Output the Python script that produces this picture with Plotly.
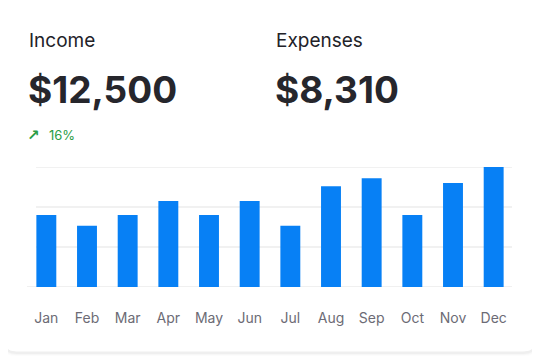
import plotly.graph_objects as go

months = ["Jan", "Feb", "Mar", "Apr", "May", "Jun", "Jul", "Aug", "Sep", "Oct", "Nov", "Dec"]
values = [18, 15.3, 18, 21.5, 18, 21.5, 15.3, 25.2, 27.2, 18, 26, 30]
grid_values = [10, 20, 30]
income_label = "Income"
income_value = "$12,500"
expenses_label = "Expenses"
expenses_value = "$8,310"
change_arrow = "↗"
change_text = "16%"

# the page body adds an 8px margin; lay out in window pixels and compensate
OFF = 8
W, H = 540 - OFF, 360 - OFF
L, R, T, B = 26 - OFF, 26, 167 - OFF, 73
PW, PH = W - L - R, H - T - B

def px(x):
    return (x - OFF - L) / PW

def py(y):
    return (H - B - (y - OFF)) / PH

FONT = "Inter, 'Open Sans', sans-serif"

fig = go.Figure()
fig.add_trace(go.Bar(
    x=months, y=values, width=0.49,
    marker=dict(color="#0780f5", line=dict(width=0)),
    hoverinfo="skip",
))

shapes = []

def rrect(x0, y0, x1, y1, r):
    def P(x, y):
        return f"{px(x):.5f},{py(y):.5f}"
    return (f"M {P(x0 + r, y0)} L {P(x1 - r, y0)} Q {P(x1, y0)} {P(x1, y0 + r)} "
            f"L {P(x1, y1 - r)} Q {P(x1, y1)} {P(x1 - r, y1)} "
            f"L {P(x0 + r, y1)} Q {P(x0, y1)} {P(x0, y1 - r)} "
            f"L {P(x0, y0 + r)} Q {P(x0, y0)} {P(x0 + r, y0)} Z")

for i, op in enumerate([0.03, 0.02, 0.012]):
    d = i + 1
    shapes.append(dict(type="path", xref="paper", yref="paper",
                       path=rrect(4 - d, -12, 536 + d, 352 + d + 1, 12 + d),
                       fillcolor=f"rgba(0,0,0,{op})", line=dict(width=0), layer="below"))
shapes.append(dict(type="path", xref="paper", yref="paper",
                   path=rrect(4, -12, 536, 352, 12),
                   fillcolor="#ffffff", line=dict(color="#efefef", width=1), layer="below"))

for g in grid_values:
    shapes.append(dict(type="line", xref="paper", yref="y", x0=px(36), x1=px(512), y0=g, y1=g,
                       line=dict(color="#e3e3e3", width=1), layer="below"))
shapes.append(dict(type="line", xref="paper", yref="y", x0=px(27), x1=px(512), y0=0, y1=0,
                   line=dict(color="#e0e0e0", width=1), layer="below"))

annotations = [
    dict(text=income_label, x=px(27), y=py(40), xanchor="left", yanchor="middle",
         font=dict(family=FONT, size=19, color="#222228")),
    dict(text=expenses_label, x=px(274), y=py(40), xanchor="left", yanchor="middle",
         font=dict(family=FONT, size=19, color="#222228")),
    dict(text=f"<b>{income_value}</b>", x=px(26), y=py(89), xanchor="left", yanchor="middle",
         font=dict(family=FONT, size=37, color="#26262c")),
    dict(text=f"<b>{expenses_value}</b>", x=px(273), y=py(89), xanchor="left", yanchor="middle",
         font=dict(family=FONT, size=37, color="#26262c")),
    dict(text=f"<b>{change_arrow}</b>", x=px(33), y=py(135), xanchor="center", yanchor="middle",
         font=dict(family="DejaVu Sans, sans-serif", size=15, color="#2a9d46")),
    dict(text=change_text, x=px(47), y=py(135), xanchor="left", yanchor="middle",
         font=dict(family=FONT, size=13, color="#2a9d46")),
]
for a in annotations:
    a.update(xref="paper", yref="paper", showarrow=False)

fig.update_layout(
    width=W, height=H,
    margin=dict(l=L, r=R, t=T, b=B),
    paper_bgcolor="#ffffff", plot_bgcolor="rgba(0,0,0,0)",
    showlegend=False, bargap=0.51,
    shapes=shapes, annotations=annotations,
    xaxis=dict(showgrid=False, zeroline=False, showline=False,
               ticks="outside", ticklen=18, tickcolor="rgba(0,0,0,0)",
               tickfont=dict(family=FONT, size=14, color="#6c6b75"), fixedrange=True),
    yaxis=dict(range=[0, 30], showgrid=False, zeroline=False, showline=False,
               showticklabels=False, fixedrange=True),
)

fig.write_html("out.html", config={"displayModeBar": False})
